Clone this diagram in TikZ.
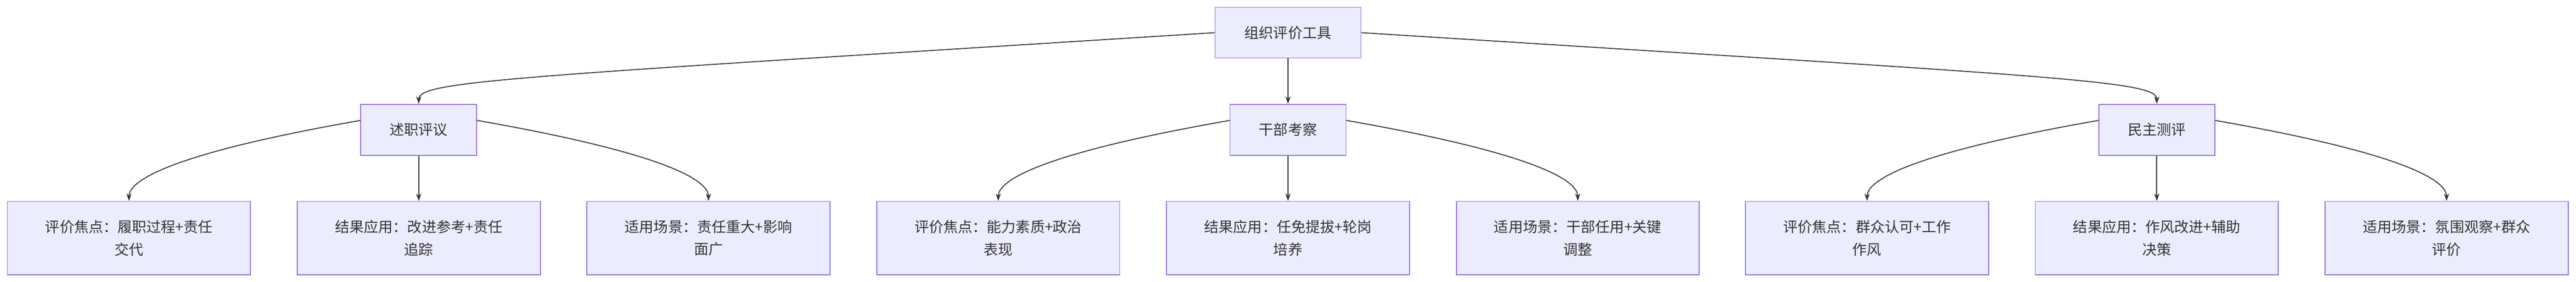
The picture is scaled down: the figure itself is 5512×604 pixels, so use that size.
\documentclass[tikz,border=0pt]{standalone}
\usepackage{fontspec}
\setmainfont{Noto Sans CJK SC}
\usetikzlibrary{arrows.meta}
\definecolor{boxfill}{HTML}{ECECFF}
\definecolor{boxline}{HTML}{9370DB}
\definecolor{ink}{HTML}{333333}
\begin{document}
\begin{tikzpicture}[x=1pt,y=-1pt]
		\tikzstyle{every node}=[draw=boxline,fill=boxfill,line width=2pt,text=ink,font=\fontsize{31}{48}\selectfont,align=center,inner sep=0pt];
		\tikzstyle{top}=[minimum width=312,minimum height=108];
		\tikzstyle{mid}=[minimum width=248,minimum height=109];
		\tikzstyle{leaf}=[minimum width=520,minimum height=157];
		\tikzstyle{link}=[draw=ink,line width=2pt,-{Stealth[length=16pt,width=11pt]}];
		\useasboundingbox (0,0) rectangle (5512,604);
		\node[top] (root) at (2756,70) {组织评价工具};
		\node[mid] (a) at (896,278) {述职评议};
		\node[mid] (b) at (2756,278) {干部考察};
		\node[mid] (c) at (4615,278) {民主测评};
		\node[leaf] (a1) at (276,510) {评价焦点：履职过程+责任\\交代};
		\node[leaf] (a2) at (896,510) {结果应用：改进参考+责任\\追踪};
		\node[leaf] (a3) at (1516,510) {适用场景：责任重大+影响\\面广};
		\node[leaf] (b1) at (2136,510) {评价焦点：能力素质+政治\\表现};
		\node[leaf] (b2) at (2756,510) {结果应用：任免提拔+轮岗\\培养};
		\node[leaf] (b3) at (3376,510) {适用场景：干部任用+关键\\调整};
		\node[leaf] (c1) at (3995,510) {评价焦点：群众认可+工作\\作风};
		\node[leaf] (c2) at (4615,510) {结果应用：作风改进+辅助\\决策};
		\node[leaf] (c3) at (5235,510) {适用场景：氛围观察+群众\\评价};
		\draw[link] (root.west) .. controls +(-1500,95) and +(0,-50) .. (a.north);
		\draw[link] (root) -- (b);
		\draw[link] (root.east) .. controls +(1500,95) and +(0,-50) .. (c.north);
		\draw[link] ([yshift=20pt]a.west) .. controls +(-400,70) and +(0,-45) .. (a1.north);
		\draw[link] (a) -- (a2);
		\draw[link] ([yshift=20pt]a.east) .. controls +(400,70) and +(0,-45) .. (a3.north);
		\draw[link] ([yshift=20pt]b.west) .. controls +(-400,70) and +(0,-45) .. (b1.north);
		\draw[link] (b) -- (b2);
		\draw[link] ([yshift=20pt]b.east) .. controls +(400,70) and +(0,-45) .. (b3.north);
		\draw[link] ([yshift=20pt]c.west) .. controls +(-400,70) and +(0,-45) .. (c1.north);
		\draw[link] (c) -- (c2);
		\draw[link] ([yshift=20pt]c.east) .. controls +(400,70) and +(0,-45) .. (c3.north);
\end{tikzpicture}
\end{document}
